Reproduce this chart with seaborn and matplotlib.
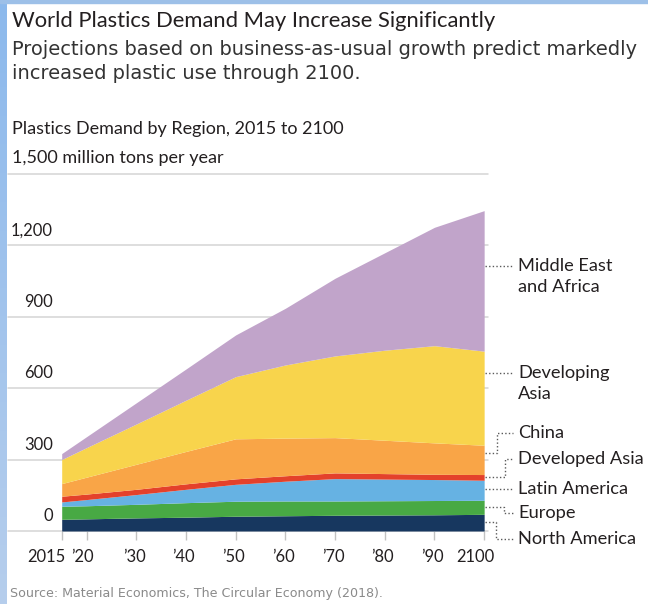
import numpy as np
import matplotlib
matplotlib.use("Agg")
import matplotlib.pyplot as plt
import seaborn as sns
from matplotlib.patches import Rectangle

# Plastics demand by region, million tons per year
years = [2015, 2020, 2030, 2040, 2050, 2060, 2070, 2080, 2090, 2100]
north_america = [49, 51, 55, 58, 62, 64, 66, 67, 68, 70]
europe = [55, 55, 57, 61, 63, 62, 60, 60, 60, 59]
latin_america = [18, 26, 41, 56, 71, 83, 94, 91, 88, 84]
developed_asia = [24, 23, 22, 23, 23, 23, 24, 23, 22, 24]
china = [53, 71, 105, 136, 168, 158, 148, 140, 132, 123]
developing_asia = [101, 124, 169, 215, 261, 307, 343, 378, 408, 395]
middle_east_africa = [25, 46, 89, 131, 175, 238, 326, 409, 497, 590]

region_colors = ["#17375f", "#48a944", "#66b2e3", "#e4412b",
                 "#f9a547", "#f8d44c", "#c1a4ca"]

y_ticks = [0, 300, 600, 900, 1200, 1500]
y_labels = ["0", "300", "600", "900", "1,200"]
unit_label = "1,500 million tons per year"
x_ticks = [2015, 2020, 2030, 2040, 2050, 2060, 2070, 2080, 2090, 2100]
x_labels = ["2015", "\u201920", "\u201930", "\u201940", "\u201950", "\u201960",
            "\u201970", "\u201980", "\u201990", "2100"]

sns.set_theme(style="white")
plt.rcParams["font.family"] = ["Lato", "DejaVu Sans"]

W, H = 648, 604
fig = plt.figure(figsize=(W / 100, H / 100), dpi=100)
fig.patch.set_facecolor("white")

# plot area geometry in pixels
AX_L, AX_R = 8, 488
AX_B, AX_T = 531, 173.7
PPY = 4.97
X0 = 2015 - (61.7 - AX_L) / PPY
X1 = X0 + (AX_R - AX_L) / PPY


def dx(px):
    return X0 + (px - AX_L) / PPY


def dy(py):
    return (AX_B - py) * 1500 / (AX_B - AX_T)


ax = fig.add_axes([AX_L / W, (H - AX_B) / H, (AX_R - AX_L) / W, (AX_B - AX_T) / H])
ax.stackplot(years, north_america, europe, latin_america, developed_asia,
             china, developing_asia, middle_east_africa,
             colors=region_colors, linewidth=0, zorder=2)
ax.set_xlim(X0, X1)
ax.set_ylim(0, 1500)
ax.set_yticks(y_ticks)
ax.set_xticks(x_ticks)
ax.yaxis.grid(True, color="#d4d4d4", linewidth=1.1)
ax.xaxis.grid(False)
ax.set_axisbelow(True)
for gl in ax.get_ygridlines():
    gl.set_clip_on(False)
ax.tick_params(axis="y", length=0, left=False, labelleft=False)
ax.tick_params(axis="x", bottom=True, length=6.5, width=1, color="#c2c2c2",
               direction="out", labelbottom=False, pad=0)
sns.despine(ax=ax, left=True, bottom=True, right=True, top=True)
ax.patch.set_alpha(0)

TXT = "#231f20"
renderer = fig.canvas.get_renderer()


def fit(t, width_px):
    w = t.get_window_extent(renderer).width
    t.set_fontsize(t.get_fontsize() * width_px / w)
    return t.get_fontsize()


# y tick labels sit above their gridlines
ylab = []
for v, lab in zip(y_ticks[:-1], y_labels):
    t = ax.annotate(lab, xy=(dx(53), v), xytext=(0, 15), textcoords="offset pixels",
                    ha="right", va="center", color=TXT, fontsize=12,
                    annotation_clip=False)
    ylab.append(t)
fs_tick = fit(ylab[-1], 42)
for t in ylab:
    t.set_fontsize(fs_tick)

# x tick labels
for yr, lab in zip(x_ticks, x_labels):
    if lab == "2015":
        ha, off = "right", 3.5
    elif lab == "2100":
        ha, off = "center", -9
    elif lab == "\u201920":
        ha, off = "center", -4
    else:
        ha, off = "center", -2
    ax.annotate(lab, xy=(yr, 0), xytext=(off, -26), textcoords="offset pixels",
                ha=ha, va="center", color=TXT, fontsize=fs_tick,
                annotation_clip=False)

# region labels with dotted leaders
LEAD = dict(color="#5a5a5a", lw=1.0, ls=(0, (1, 1.6)), clip_on=False, zorder=3)
xe, xt = dx(485), dx(513)
label_x = dx(518)
region_text = [
    ("Middle East", 266), ("and Africa", 287),
    ("Developing", 373), ("Asia", 394),
    ("China", 433), ("Developed Asia", 459),
    ("Latin America", 489), ("Europe", 513), ("North America", 539),
]
rts = []
for lab, py in region_text:
    t = ax.text(label_x, dy(py), lab, ha="left", va="center", color=TXT,
                fontsize=13, clip_on=False)
    rts.append(t)
fs_reg = fit(rts[5], 125)
for t in rts:
    t.set_fontsize(fs_reg)

# straight leaders
for py in (266, 373, 489):
    ax.plot([xe, xt], [dy(py), dy(py)], **LEAD)
# elbow leaders: (start y, elbow x, label y)
for py0, pxe, py1 in [(452.7, 497, 433), (476.7, 505, 459),
                      (506.7, 504, 513), (521.7, 496, 539)]:
    ax.plot([xe, dx(pxe), dx(pxe), xt],
            [dy(py0), dy(py0), dy(py1), dy(py1)], **LEAD)

# unit label on the top gridline
t = ax.text(dx(11.6), dy(163), unit_label, ha="left", va="baseline",
            color=TXT, fontsize=12, clip_on=False)
fit(t, 211)

# headings
def ftext(px, py, s, width, **kw):
    t = fig.text(px / W, 1 - py / H, s, ha="left", va="baseline", **kw)
    return fit(t, width)


ftext(11.6, 27.3, "World Plastics Demand May Increase Significantly", 487,
      color=TXT, fontsize=16)
fs_sub = ftext(11.6, 55, "Projections based on business-as-usual growth predict markedly",
               622, color="#333333", fontsize=13, family=["DejaVu Sans"])
fig.text(11.6 / W, 1 - 79 / H, "increased plastic use through 2100.", ha="left",
         va="baseline", color="#333333", fontsize=fs_sub, family=["DejaVu Sans"])
ftext(11.6, 134, "Plastics Demand by Region, 2015 to 2100", 331,
      color=TXT, fontsize=12)
ftext(10.5, 597, "Source: Material Economics, The Circular Economy (2018).", 374,
      color="#8a8a8a", fontsize=9, family=["DejaVu Sans"])

# blue frame on the left and top edges
bax = fig.add_axes([0, 0, 7 / W, 1])
top_c = np.array([0x8c, 0xb9, 0xec]) / 255
bot_c = np.array([0xb6, 0xce, 0xec]) / 255
grad = np.linspace(0, 1, 256)[:, None, None]
bax.imshow(top_c * (1 - grad) + bot_c * grad, aspect="auto",
           extent=[0, 1, 0, 1])
bax.axis("off")
fig.patches.append(Rectangle((0, 1 - 3 / H), 1, 3 / H, transform=fig.transFigure,
                             color="#9dc0e8", zorder=10))

fig.savefig("out.png", dpi=100)
